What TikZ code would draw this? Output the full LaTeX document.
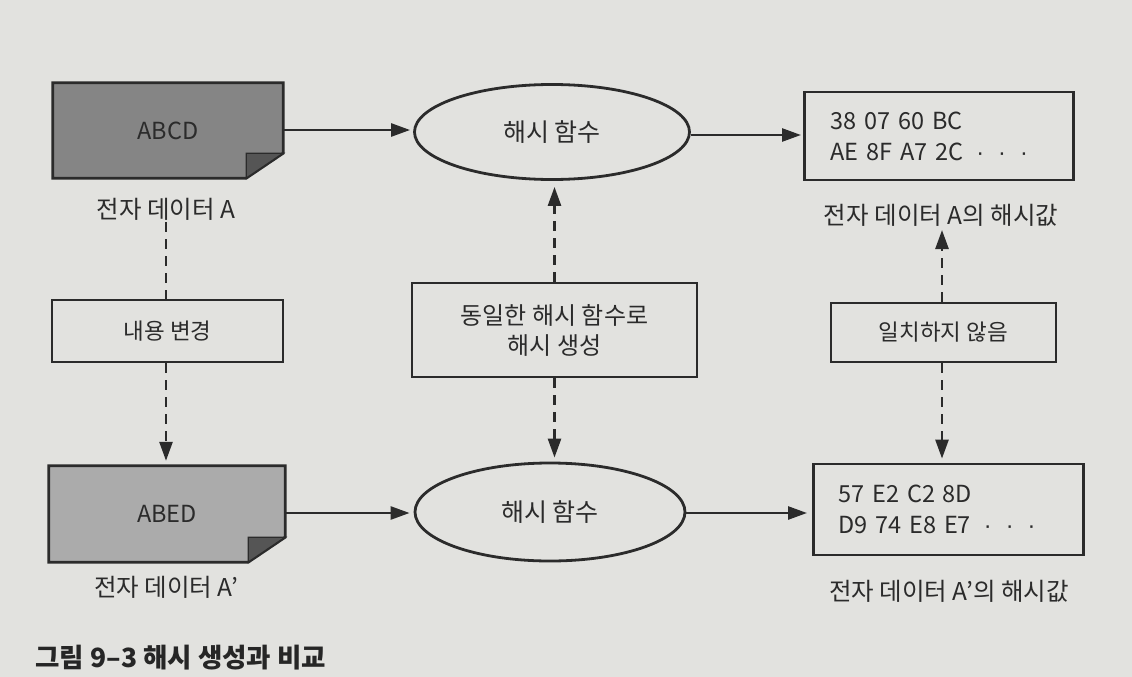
\documentclass[tikz,border=0pt]{standalone}
\usepackage{fontspec}
\setmainfont{Noto Sans CJK KR}
\newfontfamily\latfont{Liberation Sans}
\usetikzlibrary{arrows.meta,shapes.geometric,calc}
\definecolor{bg}{HTML}{E2E2DF}
\definecolor{ink}{HTML}{2B2B2B}
\definecolor{docdark}{HTML}{858585}
\definecolor{doclight}{HTML}{ABABAB}
\definecolor{foldc}{HTML}{555555}
\newcommand{\hexdots}{{\latfont\hspace{13pt}·\hspace{14pt}·\hspace{14pt}·}}
\tikzset{
  base/.style={text=ink, font=\fontsize{23.5}{30}\selectfont},
  plainbox/.style={base, draw=ink, line width=2.8pt, fill=bg, rectangle, inner sep=0pt, font=\fontsize{22.5}{30}\selectfont},
  hashbox/.style={base, draw=ink, line width=2.8pt, rectangle, align=left, anchor=west, font=\fontsize{23.5}{31}\selectfont},
  fn/.style={base, draw=ink, line width=2.8pt, ellipse, inner sep=0pt, font=\fontsize{25}{30}\selectfont},
  lbl/.style={base, inner sep=2pt, font=\fontsize{24.5}{30}\selectfont},
  flow/.style={draw=ink, line width=2.6pt, -{Triangle[length=19pt,width=13pt]}},
  dflow/.style={draw=ink, line width=2.6pt, dash pattern=on 10pt off 7pt, -{Triangle[length=19pt,width=13pt]}},
  dline/.style={draw=ink, line width=2.6pt, dash pattern=on 10pt off 7pt},
}
\begin{document}
\begin{tikzpicture}[x=1pt,y=-1pt]
\fill[bg] (0,0) rectangle (1132,677);
\useasboundingbox (0,0) rectangle (1132,677);

% documents
\node[base, minimum width=230pt, minimum height=95pt, inner sep=0pt] (docA) at (168,130.5) {};
\node[base, minimum width=236pt, minimum height=96pt, inner sep=0pt] (docB) at (167,514) {};
\foreach \d/\c in {docA/docdark, docB/doclight}{
  \filldraw[fill=\c, draw=ink, line width=2.8pt, line join=miter]
    (\d.north west) -- (\d.north east) -- ([yshift=25pt]\d.south east)
    -- ([xshift=-37pt]\d.south east) -- (\d.south west) -- cycle;
  \filldraw[fill=foldc, draw=ink, line width=1.4pt, line join=miter]
    ([yshift=25pt]\d.south east) -- ([xshift=-37pt,yshift=25pt]\d.south east)
    -- ([xshift=-37pt]\d.south east) -- cycle;
}
\node[base] at (docA) {ABCD};
\node[base] at (docB) {ABED};
\node[lbl] (labA) at (166,209) {전자 데이터 A};
\node[lbl] (labB) at (166,587) {전자 데이터 A'};

% hash functions
\node[fn, minimum width=275pt, minimum height=95pt] (ell1) at (552,132) {해시 함수};
\node[fn, minimum width=270pt, minimum height=98pt] (ell2) at (550,512) {해시 함수};

% hash values
\node[hashbox, minimum width=269pt, minimum height=88pt, inner xsep=26pt, text width=217pt] (h1) at (803,136)
  {\mbox{38 07 60 BC}\\\mbox{AE 8F A7 2C\hexdots}};
\node[hashbox, minimum width=270pt, minimum height=91pt, inner xsep=25pt, text width=220pt] (h2) at (812,509.5)
  {\mbox{57 E2 C2 8D}\\\mbox{D9 74 E8 E7\hexdots}};
\node[lbl] (labH1) at (941,215) {전자 데이터 A의 해시값};
\node[lbl] (labH2) at (949,591) {전자 데이터 A'의 해시값};

% middle boxes
\node[plainbox, minimum width=231pt, minimum height=62pt] (chg) at (167.5,331) {내용 변경};
\node[plainbox, minimum width=285pt, minimum height=94pt, align=center, font=\fontsize{24}{30}\selectfont] (same) at (554.5,330) {동일한 해시 함수로\\해시 생성};
\node[plainbox, minimum width=225pt, minimum height=59pt] (mis) at (943.5,332.5) {일치하지 않음};

% solid arrows
\draw[flow, shorten >=3pt] (docA.east |- 0,130) -- (ell1.west |- 0,130);
\draw[flow, shorten >=2pt] (ell1.east |- 0,135) -- (h1.west |- 0,135);
\draw[flow, shorten >=4pt] (docB.east |- 0,513) -- (ell2.west |- 0,513);
\draw[flow, shorten >=5pt] (ell2.east |- 0,513) -- (h2.west |- 0,513);

% dashed connectors
\draw[dline] (labA.south) -- (labA.south |- chg.north);
\draw[dflow, shorten >=5pt] (labA.south |- chg.south) -- (labA.south |- docB.north);
\draw[dflow, shorten >=6pt] (same.north) -- (same.north |- ell1.south);
\draw[dflow, shorten >=4pt] (same.south) -- (same.south |- ell2.north);
\draw[dflow] (942,0 |- mis.north) -- (942,230);
\draw[dflow, shorten >=4pt] (942,0 |- mis.south) -- (942,0 |- h2.north);

% caption
\node[base, anchor=west, font=\fontsize{26.5}{30}\selectfont\bfseries, text=black!85] (cap) at (32,658) {그림 9–3 해시 생성과 비교};
\end{tikzpicture}
\end{document}
